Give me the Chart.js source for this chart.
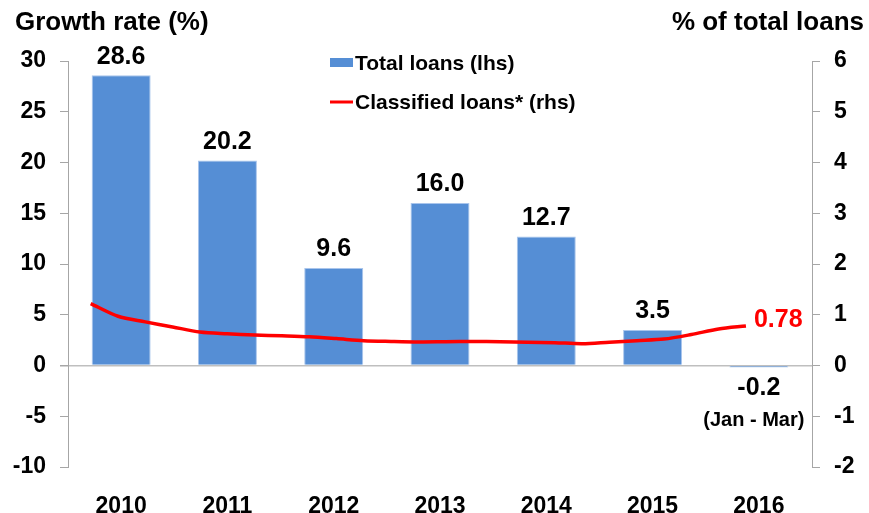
<!DOCTYPE html>
<html>
<head>
<meta charset="utf-8">
<script src="https://cdn.jsdelivr.net/npm/chart.js@4.4.1/dist/chart.umd.min.js"></script>
<style>
  html, body { margin: 0; padding: 0; background: #ffffff; }
  #wrap { width: 869px; height: 513px; }
</style>
</head>
<body>
<div id="wrap"><canvas id="c" width="869" height="513"></canvas></div>
<script>
// ---- data ----
const categories = ['2010', '2011', '2012', '2013', '2014', '2015', '2016'];
const totalLoans = [28.6, 20.2, 9.6, 16.0, 12.7, 3.5, -0.2];
// classified loans, quarterly from 2010 Q1 to 2016 Q1 (% of total loans)
const classifiedStartYear = 2010;
const classifiedLoans = [1.22, 0.97, 0.86, 0.76, 0.66, 0.625, 0.60, 0.585, 0.566, 0.53, 0.49, 0.475,
                         0.465, 0.47, 0.475, 0.47, 0.46, 0.45, 0.43, 0.46, 0.49, 0.52, 0.61, 0.72, 0.78];
const classifiedLastLabel = '0.78';
const lastBarNote = '(Jan - Mar)';
const leftAxis = { min: -10, max: 30, step: 5, title: 'Growth rate (%)' };
const rightAxis = { min: -2, max: 6, step: 1, title: '% of total loans' };
const seriesNames = ['Total loans (lhs)', 'Classified loans* (rhs)'];

const FONT = '"Liberation Sans", Arial, Helvetica, sans-serif';
const BAR_COLOR = '#558ED5';
const LINE_COLOR = '#FF0000';
const AXIS_COLOR = '#A6A6A6';

const linePoints = classifiedLoans.map((v, i) => ({ x: classifiedStartYear + i / 4, y: v }));

const labelPlugin = {
  id: 'labels',
  afterDatasetsDraw(chart) {
    const ctx = chart.ctx;
    ctx.save();
    const barMeta = chart.getDatasetMeta(0);
    ctx.fillStyle = '#000';
    ctx.textAlign = 'center';
    barMeta.data.forEach((el, i) => {
      const v = totalLoans[i];
      ctx.font = 'bold 25px ' + FONT;
      if (v >= 0) {
        ctx.textBaseline = 'bottom';
        ctx.fillText(v.toFixed(1), el.x, el.y - 6);
      } else {
        ctx.textBaseline = 'middle';
        ctx.fillText(v.toFixed(1), el.x, el.y + 21);
        ctx.font = 'bold 20px ' + FONT;
        ctx.fillText(lastBarNote, el.x - 5, el.y + 53);
      }
    });
    const lineMeta = chart.getDatasetMeta(1);
    const last = lineMeta.data[lineMeta.data.length - 1];
    ctx.fillStyle = LINE_COLOR;
    ctx.font = 'bold 25px ' + FONT;
    ctx.textAlign = 'left';
    ctx.textBaseline = 'middle';
    ctx.fillText(classifiedLastLabel, last.x + 8, last.y - 6);
    ctx.restore();
  },
  afterDraw(chart) {
    const ctx = chart.ctx;
    ctx.save();
    ctx.fillStyle = '#000';
    ctx.font = 'bold 26px ' + FONT;
    ctx.textBaseline = 'alphabetic';
    ctx.textAlign = 'left';
    ctx.fillText(leftAxis.title, 15, 30);
    ctx.textAlign = 'right';
    ctx.fillText(rightAxis.title, 864, 30);
    ctx.font = 'bold 21px ' + FONT;
    ctx.textAlign = 'left';
    ctx.textBaseline = 'middle';
    ctx.fillStyle = BAR_COLOR;
    ctx.fillRect(330, 58, 23, 9);
    ctx.fillStyle = '#000';
    ctx.fillText(seriesNames[0], 355, 64);
    ctx.strokeStyle = LINE_COLOR;
    ctx.lineWidth = 3;
    ctx.beginPath();
    ctx.moveTo(330, 102);
    ctx.lineTo(353, 102);
    ctx.stroke();
    ctx.fillText(seriesNames[1], 355, 103);
    ctx.restore();
  }
};

new Chart(document.getElementById('c'), {
  data: {
    labels: categories,
    datasets: [
      {
        type: 'bar',
        label: seriesNames[0],
        data: totalLoans,
        backgroundColor: BAR_COLOR,
        borderColor: '#A9C5EC',
        borderWidth: 1,
        xAxisID: 'x',
        yAxisID: 'y',
        grouped: false,
        categoryPercentage: 1,
        barPercentage: 0.555,
        order: 2
      },
      {
        type: 'line',
        label: seriesNames[1],
        data: linePoints,
        borderColor: LINE_COLOR,
        borderWidth: 3.5,
        pointRadius: 0,
        tension: 0.3,
        fill: false,
        xAxisID: 'xq',
        yAxisID: 'y2',
        order: 1
      }
    ]
  },
  options: {
    responsive: false,
    animation: false,
    layout: { padding: { top: 61, left: 0, right: 0, bottom: 0 } },
    plugins: { legend: { display: false }, tooltip: { enabled: false } },
    scales: {
      x: {
        type: 'category',
        offset: true,
        grid: { display: false },
        border: { display: false },
        ticks: { color: '#000', font: { family: FONT, size: 23, weight: 'bold' }, padding: 18 },
        afterFit(s) { s.height = 46; }
      },
      xq: {
        type: 'linear',
        display: false,
        min: 2009.792,
        max: 2016.605
      },
      y: {
        position: 'left',
        min: leftAxis.min,
        max: leftAxis.max,
        ticks: { stepSize: leftAxis.step, color: '#000', font: { family: FONT, size: 23, weight: 'bold' }, padding: 14 },
        grid: {
          color: (c) => (c.tick && c.tick.value === 0) ? '#BFBFBF' : 'rgba(0,0,0,0)',
          lineWidth: (c) => (c.tick && c.tick.value === 0) ? 1.5 : 1,
          tickColor: AXIS_COLOR,
          tickLength: 8,
          drawOnChartArea: true
        },
        border: { color: AXIS_COLOR, width: 1 },
        afterFit(s) { s.width = 68; }
      },
      y2: {
        position: 'right',
        min: rightAxis.min,
        max: rightAxis.max,
        ticks: { stepSize: rightAxis.step, color: '#000', font: { family: FONT, size: 23, weight: 'bold' }, padding: 14 },
        grid: { drawOnChartArea: false, tickColor: AXIS_COLOR, tickLength: 8, color: AXIS_COLOR },
        border: { color: AXIS_COLOR, width: 1 },
        afterFit(s) { s.width = 57; }
      }
    }
  },
  plugins: [labelPlugin]
});
</script>
</body>
</html>
